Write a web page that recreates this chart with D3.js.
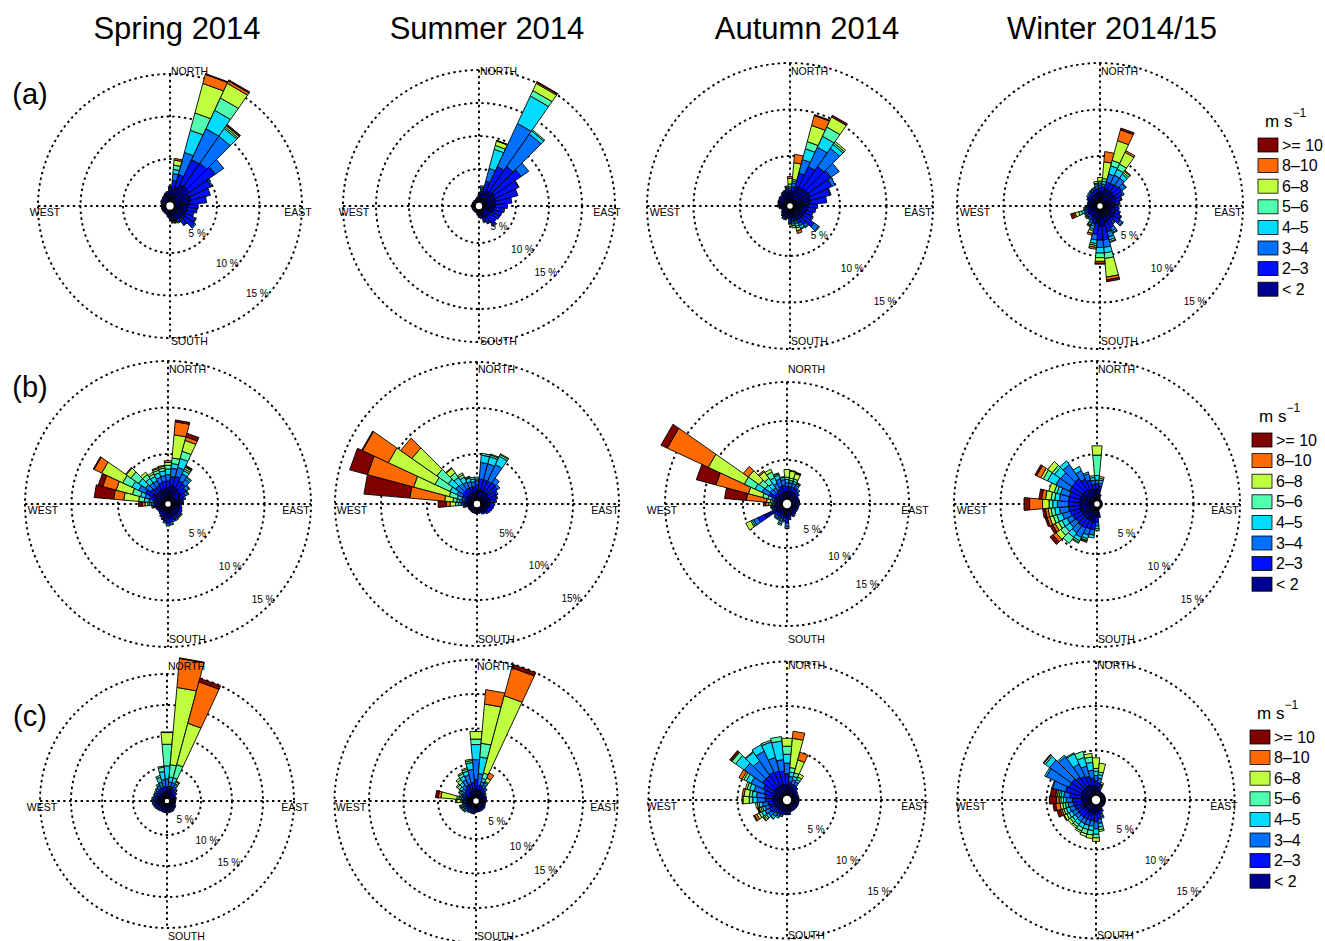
<!DOCTYPE html>
<html>
<head>
<meta charset="utf-8">
<script src="https://cdn.jsdelivr.net/npm/d3@7"></script>
<style>
    body { margin: 0; background: #fff; }
    text { font-family: "Liberation Sans", Arial, Helvetica, sans-serif; fill: #000; }
</style>
</head>
<body>
<svg width="1325" height="941"></svg>
<script type="text/javascript">
    // compass direction of each sector centre (deg, clockwise from north)
    var directions = [0, 10, 20, 30, 40, 50, 60, 70, 80, 90, 100, 110, 120, 130, 140, 150, 160, 170,
        180, 190, 200, 210, 220, 230, 240, 250, 260, 270, 280, 290, 300, 310, 320, 330, 340, 350];
    var speedBins = ["< 2", "2\u20133", "3\u20134", "4\u20135", "5\u20136", "6\u20138", "8\u201310", ">= 10"];
    var binColors = ["#000090", "#0010ff", "#0070ff", "#00dcff", "#50ffb0", "#c0ff40", "#ff6a00", "#800000"];
    var seasons = ["Spring 2014", "Summer 2014", "Autumn 2014", "Winter 2014/15"];
    var rowLabels = ["(a)", "(b)", "(c)"];
    var ringLabels = [5, 10, 15];

    // frequency (%) per speed bin for each direction, order as in speedBins
    var springA = [[1.2,0.3,0.2,0.1],[1.5,1.0,0.8,0.5,0.5,0.6,0.2],[1.8,1.5,2.7,2.7,2.1,3.6,1.1,0.1],
        [2.2,3.3,4.0,2.4,1.6,1.9,0.3,0.15],[2.3,3.3,3.9,1.1,0.2,0.2,0.1,0.1],[2.2,3.8,1.2],[2.0,2.8,0.2],
        [2.0,2.4],[1.8,2.0],[1.6,1.2],[1.5,1.2],[1.4,1.0],[1.5,1.3,0.1],[1.6,1.4,0.2],[1.4,0.8,0.1],
        [1.2,0.4,0.1],[1.0,0.2,0.1,0.1,0.1,0.1],[0.9,0.2,0.1,0.1,0,0.1,0.1],[0.8,0.2],[0.7,0.1],[0.6],
        [0.5],[0.5],[0.5],[0.5],[0.5],[0.5],[0.5],[0.5],[0.6],[0.7],[0.7],[0.8],[0.8,0.1],[0.9,0.2],[1.0,0.2]];
    var summerA = [[1.0,0.2],[1.3,0.4,0.3,0.2,0.1,0.2],[1.8,1.5,2.0,3.0,0.6,0.7,0.05,0.05],
        [2.0,4.0,7.2,4.6,0.9,1.2,0.2,0.1],[2.2,4.5,6.0,0.6,0.2],[2.2,5.0,1.4],[2.0,4.0,0.1],[2.0,3.5],
        [1.9,2.5],[1.8,1.9],[1.7,1.6],[1.6,1.4],[1.5,1.4],[1.4,1.3],[1.4,1.6,0.2],[1.3,1.0,0.1],
        [1.2,0.5,0.2,0.1],[1.0,0.3],[0.9,0.2],[0.7,0.1],[0.5],[0.5],[0.5],[0.5],[0.5],[0.5],[0.5],
        [0.5],[0.5],[0.5],[0.5],[0.5],[0.5],[0.5],[0.6],[0.8]];
    var autumnA = [[1.0,0.3,0.2,0.2,0.3,0.6,0.2],[1.2,0.5,0.4,0.2,0.2,1.8,0.9],[1.8,1.5,1.5,1.2,0.8,1.8,1.1,0.1],
        [1.9,2.4,2.3,1.3,1.1,1.2,0,0.2],[2.0,2.8,2.4,0.5,0.2,0.2],[2.0,3.0,1.1],[2.0,2.6,0.4],[1.9,2.2,0.1],
        [1.8,1.8],[1.6,1.0],[1.5,0.9],[1.4,0.8],[1.3,0.9,0.2],[1.4,1.4,0.6,0.1],[1.3,0.8,0.3,0.1],
        [1.2,0.5,0.3,0.3,0.1],[1.0,0.3,0.3,0.3,0.2,0.3,0.3],[0.9,0.3,0.2,0.2,0.2,0.2],[0.9,0.3,0.2,0.1,0.1],
        [0.8,0.2],[0.8,0.1,0.1,0.1,0.1],[0.8,0.2,0.1,0.1],[0.8,0.1,0.1],[0.7,0.1],[0.6],[0.6],[0.7,0.1],
        [0.8,0.1,0.1],[0.8,0.1],[0.9,0.1],[0.9,0.1],[0.9,0.2],[0.9,0.2],[1.0,0.2,0.1],[1.0,0.2,0.1,0.1],
        [1.1,0.3,0.2,0.1,0.1]];
    var winterA = [[1.2,0.4,0.3,0.2,0.2,0.4],[1.2,0.5,0.3,0.3,0.3,1.8,1.1],[1.5,0.8,0.9,0.9,0.6,2.2,1.2,0.2],
        [1.5,0.8,1.0,0.7,0.6,1.4,0.2],[1.5,0.9,0.9,0.5,0.2,0.2,0.1],[1.5,1.0,0.5,0.1],[1.5,0.8,0.2],
        [1.4,0.6,0.1],[1.3,0.5],[1.2,0.4],[1.2,0.5],[1.3,0.6],[1.4,0.7,0.1],[1.5,0.8,0.3,0.1],[1.3,0.4,0.2,0.1],
        [1.4,0.8,0.4,0.2,0.1],[1.5,1.0,0.6,0.3,0.2,0.1],[1.8,1.5,0.8,0.6,0.6,2.0,0.3,0.2],
        [1.8,1.5,0.8,0.6,0.5,0.4,0.2,0.1],[1.5,1.2,0.6,0.4,0.2,0.2,0.2],[1.1,0.5,0.3,0.3,0.2,0.3,0.2],
        [1.0,0.4,0.3,0.2,0.1,0.1],[0.9,0.3,0.2,0.1],[0.8,0.3,0.2,0.1,0.1,0.1],[0.8,0.3,0.2,0.1,0.1],
        [0.8,0.3,0.3,0.3,0.3,0.4,0.2,0.3],[0.8,0.2,0.2,0.1,0.1],[0.8,0.2],[0.8,0.2],[0.8,0.2],[0.8,0.3,0.1],
        [0.9,0.3,0.2],[0.9,0.3,0.2,0.1],[1.0,0.3,0.2,0.1],[1.0,0.4,0.2,0.1],[1.1,0.4,0.3,0.2,0.1,0.2]];

    var springB = [[1.4,0.7,0.7,0.6,0.4,0.3,0.2],[1.6,1.0,0.9,0.5,0.6,2.5,1.4,0.2],[1.6,1.1,1.0,1.0,0.8,1.2,0.4,0.4],
        [1.5,0.9,0.8,0.4,0.2,0.2,0.1,0.1],[1.4,0.9,0.6,0.2,0.1],[1.3,0.7,0.4,0.1],[1.1,0.6,0.3,0.1],[1.0,0.4,0.2],
        [0.9,0.3,0.1],[0.8,0.3],[0.8,0.3],[0.9,0.3],[0.9,0.4],[1.0,0.4,0.1],[1.0,0.4,0.1],[1.0,0.4,0.2],
        [1.0,0.4,0.2],[1.1,0.5,0.3],[1.2,0.5,0.3],[1.1,0.4,0.2],[1.0,0.3,0.1],[0.9,0.3],[0.8,0.2],[0.7,0.2],
        [0.7,0.2],[0.8,0.2],[0.8,0.2,0.1,0.1,0.1,0.1],[0.8,0.3,0.3,0.2,0.2,0.3,0.3,0.4],
        [0.8,0.4,0.5,0.5,0.6,1.6,1.1,2.1],[1.1,0.6,0.5,0.5,0.9,1.8,1.5,0.5],[1.5,0.8,0.8,0.8,1.1,2.5,0.9,0.1],
        [1.2,0.7,0.7,0.9,1.0,0.6,0.1],[1.2,0.6,0.6,0.6,0.5,0.3],[1.2,0.6,0.6,0.5,0.3,0.2],
        [1.3,0.7,0.6,0.5,0.3,0.2,0.1],[1.4,0.7,0.6,0.5,0.3,0.2,0.1]];
    var summerB = [[1.0,0.7,0.4,0.2,0.2],[1.1,1.2,1.8,0.8,0.2],[1.1,1.2,1.8,0.8,0.2,0.1],[1.1,1.2,2.0,1.0,0.2,0.1],
        [1.1,1.3,0.6],[1.1,1.2,0.3],[1.0,0.9,0.2],[1.0,0.8,0.1],[1.0,0.7],[0.9,0.6],[0.9,0.5],[0.8,0.5],
        [0.8,0.4],[0.8,0.3],[0.7,0.2],[0.6,0.2],[0.5,0.1],[0.5,0.1],[0.5,0.1],[0.5,0.1],[0.5,0.1],[0.5,0.1],
        [0.5,0.1],[0.5,0.1],[0.5,0.1],[0.5,0.1],[0.6,0.2,0.1,0.1,0.1],[0.7,0.3,0.3,0.3,0.3,0.6,0.4,0.9],
        [0.8,0.4,0.3,0.3,0.4,0.9,3.8,5.0],[0.6,0.3,0.4,0.5,0.9,4.0,5.2,2.0],[0.8,0.5,0.7,0.8,1.8,5.6,3.1,0.1],
        [0.9,0.6,0.9,1.0,1.5,3.3,1.5],[0.9,0.6,0.8,0.8,0.6,0.6,0.1],[0.9,0.6,0.7,0.6,0.3,0.2],
        [0.9,0.6,0.6,0.4,0.1,0.1],[0.9,0.6,0.5,0.3,0.2]];
    var autumnB = [[1.0,0.6,0.5,0.4,0.3,1.0],[1.0,0.6,0.5,0.3,0.3,0.9,0.1],[1.0,0.6,0.5,0.3,0.3,0.7,0.1,0.1],
        [1.0,0.6,0.4,0.2,0.1,0.1],[0.9,0.5,0.3],[0.8,0.4,0.1],[0.7,0.3],[0.7,0.3],[0.7,0.3],[0.7,0.3],
        [0.6,0.3],[0.6,0.3],[0.6,0.3],[0.6,0.3],[0.6,0.3,0.1],[0.7,0.3,0.2],[0.7,0.3],[0.8,0.4,0.2],
        [1.0,0.8,0.5,0.2],[0.8,0.4,0.3,0.2],[0.8,0.5,0.4,0.3,0.2],[0.8,0.4,0.3,0.2],[0.9,0.4,0.3,0.1],
        [0.9,0.4,0.2],[2.6,0.9,0.6,0.2,0.2,0.7],[0.8,0.3,0.2,0.1],[0.7,0.3,0.2,0.1,0.1,0.1],
        [0.6,0.2,0.2,0.2,0.2,0.3,0.4,0.3],[0.6,0.2,0.2,0.2,0.3,0.5,2.6,2.8],[0.7,0.3,0.4,0.5,0.7,1.9,4.3,2.6],
        [1.1,0.8,1.0,1.0,1.5,5.1,5.8,0.9],[0.8,0.5,0.7,0.8,0.9,1.7,0.8],[0.8,0.5,0.6,0.7,0.8,1.0,0.2],
        [0.8,0.6,0.9,0.8,0.8,0.4],[0.9,0.8,1.0,0.5,0.2,0.1],[1.0,0.8,0.7,0.3,0.1]];
    var winterB = [[1.3,0.5,0.4,0.5,2.2,1.0],[1.2,0.4,0.3,0.3,0.2,0.2],[0.5,0.2],[0.3],[0.2],[0.2],[0.2],
        [0.2],[0.2],[0.2],[0.2],[0.2],[0.2],[0.2],[0.2],[0.2],[0.3],[0.8,0.3],[1.0,0.6,0.4,0.3,0.2],
        [1.6,0.8,0.6,0.3],[1.5,0.9,0.7,0.4,0.2,0.1,0.1],[1.5,1.0,1.1,0.4,0.2,0.1],[1.5,1.0,0.9,0.6,0.8],
        [1.5,0.9,0.8,0.6,0.6,0.6,0.4,0.4],[1.5,1.0,0.7,0.6,0.4,0.4,0.3,0.3],[1.5,1.1,0.9,0.6,0.4,0.4,0.3,0.2],
        [1.5,1.2,1.0,0.5,0.4,0.3,0.3,0.3],[1.5,1.2,1.2,0.5,0.4,0.7,1.4,0.6],[1.5,1.2,1.0,0.5,0.4,0.6,0.4,0.3],
        [1.5,1.2,1.0,0.4,0.3,0.6],[1.5,1.4,1.6,1.0,0.5,0.3,0.5,0.2],[1.5,1.4,1.5,0.8,0.3,0.6],
        [1.5,1.5,1.8,0.5],[1.4,1.2,1.0,0.5],[1.3,1.0,0.7,0.2],[1.2,0.6,0.4,0.3,0.2]];

    var springC = [[1.0,0.8,1.3,2.1,3.5,1.9,0.1],[1.3,0.6,0.7,0.8,2.0,12.5,4.7,0.1],[1.3,0.6,0.7,0.8,2.2,6.9,6.9,0.6],
        [1.0,0.6,0.5,0.3,0.2,0.3,0.2],[1.0,0.5,0.3,0.1],[0.9,0.4,0.2],[0.8,0.3],[0.8,0.3],[0.7,0.3],[0.7,0.2],
        [0.7,0.2],[0.7,0.2],[0.8,0.3],[0.8,0.3,0.1],[0.9,0.3,0.1],[0.9,0.4,0.1],[0.9,0.4,0.1],[0.9,0.4,0.1],
        [0.9,0.4,0.2],[0.9,0.4,0.1],[0.9,0.4,0.1],[0.9,0.4,0.1],[0.9,0.4,0.2],[1.0,0.4,0.2],[1.0,0.5,0.2],
        [1.1,0.5,0.2],[1.1,0.5,0.3],[1.1,0.5,0.3],[1.1,0.6,0.3],[1.0,0.5,0.3],[1.0,0.5,0.3,0.1],
        [1.0,0.5,0.3,0.2],[1.0,0.6,0.4,0.2],[1.0,0.7,0.6,0.3],[0.9,0.8,1.0,0.8,0.3],[1.0,0.8,1.2,1.3,0.7,0.2]];
    var summerC = [[1.2,1.4,2.9,2.2,0.8,1.1],[1.0,0.8,1.7,2.4,2.0,5.7,2.1],[1.2,0.6,0.6,0.5,0.8,11.6,4.2,0.5],
        [1.0,0.6,0.5,0.3,0.2,0.6,0.8],[0.9,0.5,0.3,0.1],[0.8,0.4,0.1],[0.8,0.3],[0.8,0.3],[0.7,0.3],[0.7,0.3],
        [0.7,0.2],[0.7,0.2],[0.7,0.3],[0.8,0.3],[0.8,0.3],[0.8,0.3],[0.8,0.3],[0.8,0.3],[0.8,0.3],
        [0.8,0.4,0.2],[0.8,0.4,0.2],[0.8,0.4,0.2],[0.8,0.4,0.2,0.1],[0.8,0.4,0.3,0.2,0.1],[0.8,0.4,0.3,0.2,0.2],
        [0.8,0.4,0.3,0.2,0.2,0.1],[0.7,0.3,0.2,0.2,0.1],[0.7,0.3,0.3,0.2,0.2,0.6,0.2],
        [0.8,0.5,0.4,0.3,0.3,2.3,0.4,0.4],[0.7,0.4,0.3,0.2,0.2,0.2],[0.8,0.5,0.4,0.3,0.2,0.1],
        [0.8,0.7,0.5,0.4,0.4,0.2],[0.9,0.8,0.6,0.5,0.5,0.3],[1.0,1.0,0.9,0.6,0.4,0.2],[1.0,1.1,1.3,0.6,0.3,0.2],
        [1.0,1.2,1.9,1.0,0.3,0.2]];
    var autumnC = [[1.2,1.2,1.2,1.0,0.9,0.9],[1.0,0.5,0.6,0.5,0.5,3.3,0.8],[0.9,0.4,0.5,0.4,0.4,1.5,0.9],
        [0.9,0.4,0.4,0.3,0.3,0.4],[0.8,0.3,0.1],[0.7,0.2],[0.6,0.2],[0.6,0.2],[0.6,0.2],[0.6,0.2],[0.6,0.2],
        [0.6,0.2],[0.6,0.2],[0.6,0.2],[0.6,0.2],[0.6,0.2],[0.6,0.2],[0.7,0.3,0.1],[0.7,0.3,0.1],[0.7,0.3,0.1],
        [0.8,0.4,0.2],[0.8,0.4,0.3,0.2],[0.8,0.5,0.4,0.3,0.1],[0.9,0.6,0.5,0.3,0.2,0.2,0.1],
        [0.9,0.7,0.6,0.4,0.3,0.3,0.3,0.1],[0.9,0.6,0.5,0.3,0.2,0.2,0.1,0.1],[0.9,0.7,0.6,0.4,0.2,0.2],
        [1.0,0.9,0.9,0.5,0.4,0.7,0.1],[1.0,0.9,1.0,0.5,0.3,0.6,0.2],[1.0,1.1,1.2,0.5,0.3,0.2],
        [1.1,1.3,1.5,0.6,0.3,0.2,0.4],[1.2,1.6,2.5,1.2,0.5,0.1,0,0.2],[1.2,1.6,2.0,1.2,0.1],[1.2,1.7,2.6,0.8],
        [1.2,1.6,1.6,1.8,0.2],[1.2,1.5,1.3,2.1,0.5]];
    var winterC = [[1.0,0.6,0.6,0.5,0.3,1.2],[0.9,0.5,0.5,0.4,0.3,1.0],[0.6,0.3,0.2,0.1,0.1,0.2],[0.4,0.1],
        [0.4,0.1],[0.4,0.1],[0.4,0.1],[0.4,0.1],[0.4,0.1],[0.4,0.1],[0.4,0.1],[0.4,0.1],[0.4,0.1],[0.4,0.1],
        [0.4,0.1],[0.6,0.3],[0.7,0.4,0.3,0.2],[0.9,0.7,0.5,0.4,0.3,0.2],[1.0,0.9,0.8,0.6,0.4,0.4],
        [1.0,0.8,0.6,0.5,0.5,0.4],[1.0,0.8,0.6,0.5,0.5,0.3],[1.0,0.8,0.6,0.5,0.4,0.2],[1.0,0.8,0.6,0.4,0.3,0.2],
        [1.0,0.8,0.5,0.4,0.3,0.3],[1.0,0.8,0.6,0.4,0.3,0.3,0.1],[1.0,0.9,0.6,0.4,0.3,0.2,0.2,0.4],
        [1.0,1.0,0.6,0.3,0.3,0.3,0.5,0.3],[1.0,1.1,0.7,0.3,0.3,0.2,0.3,0.8],[1.1,1.3,0.7,0.3,0.2,0.2,0.2,0.6],
        [1.2,1.8,1.5,0.1],[1.2,1.6,2.8,0.2],[1.2,1.6,3.0,0.6,0.2,0,0,0.1],[1.2,1.4,2.8,0.2],
        [1.2,1.2,1.5,1.3,0.1],[1.2,1.0,1.2,1.0,0.7],[1.1,0.8,0.9,0.9,0.6,0.4]];

    // layout of the twelve roses: centre, px per percent, inner hole, rings drawn
    var panels = [
        {data: springA, cx: 170, cy: 206, k: 8.5, r0: 4.5, rings: [5, 10, 15], unit: " %"},
        {data: summerA, cx: 479, cy: 206, k: 6.6, r0: 4, rings: [5, 10, 15, 20], unit: " %"},
        {data: autumnA, cx: 790, cy: 206, k: 9.3, r0: 3.5, rings: [5, 10, 15], unit: " %"},
        {data: winterA, cx: 1100, cy: 206, k: 9.3, r0: 3.5, rings: [5, 10, 15], unit: " %"},
        {data: springB, cx: 168, cy: 504, k: 9.3, r0: 3.5, rings: [5, 10, 15], unit: " %"},
        {data: summerB, cx: 477, cy: 504, k: 9.2, r0: 4, rings: [5, 10, 15], unit: "%"},
        {data: autumnB, cx: 787, cy: 504, k: 7.8, r0: 5, rings: [5, 10, 15], unit: " %"},
        {data: winterB, cx: 1097, cy: 504, k: 9.3, r0: 3.5, rings: [5, 10, 15], unit: " %"},
        {data: springC, cx: 167, cy: 801, k: 6.2, r0: 3, rings: [5, 10, 15, 20], unit: " %"},
        {data: summerC, cx: 476, cy: 801, k: 6.9, r0: 3.5, rings: [5, 10, 15, 20], unit: " %"},
        {data: autumnC, cx: 787, cy: 800, k: 8.9, r0: 5, rings: [5, 10, 15], unit: " %"},
        {data: winterC, cx: 1096, cy: 800, k: 8.9, r0: 5, rings: [5, 10, 15], unit: " %"}
    ];
    var legends = [{x: 1258, y: 120}, {x: 1252, y: 415}, {x: 1250, y: 712}];

    var svg = d3.select("svg");
    var half = 5 * Math.PI / 180;

    svg.selectAll("text.season")
            .data(seasons)
            .enter()
            .append("text")
            .attr("x", function (d, i) { return [177, 487, 807, 1112][i]; })
            .attr("y", 39)
            .attr("text-anchor", "middle")
            .attr("font-size", 31)
            .text(function (d) { return d; });

    svg.selectAll("text.row")
            .data(rowLabels)
            .enter()
            .append("text")
            .attr("x", 30)
            .attr("y", function (d, i) { return [104, 397, 726][i]; })
            .attr("text-anchor", "middle")
            .attr("font-size", 29)
            .text(function (d) { return d; });

    panels.forEach(function (p) {
        var maxRing = p.rings[p.rings.length - 1];
        var r = d3.scaleLinear().domain([0, maxRing]).range([p.r0, p.r0 + p.k * maxRing]);
        var R = r(maxRing);
        var g = svg.append("g").attr("transform", "translate(" + p.cx + "," + p.cy + ")");

        var grid = g.append("g")
                .attr("fill", "none")
                .attr("stroke", "#000")
                .attr("stroke-width", 1.9)
                .attr("stroke-dasharray", "2.4,3.4");
        grid.selectAll("circle")
                .data(p.rings)
                .enter()
                .append("circle")
                .attr("r", function (d) { return r(d); });
        grid.append("line").attr("x1", -R).attr("x2", R).attr("y1", 0).attr("y2", 0);
        grid.append("line").attr("y1", -R).attr("y2", R).attr("x1", 0).attr("x2", 0);

        // one stacked wedge per direction, speed bins from centre outward
        var segs = [];
        p.data.forEach(function (vals, i) {
            var cum = d3.cumsum(vals);
            vals.forEach(function (v, j) {
                if (v <= 0) return;
                segs.push({dir: directions[i], bin: j, lo: cum[j] - v, hi: cum[j]});
            });
        });
        g.append("g")
                .selectAll("path")
                .data(segs)
                .enter()
                .append("path")
                .attr("d", function (d) {
                    var a = d.dir * Math.PI / 180;
                    var pts = [d3.pointRadial(a - half, r(d.lo)), d3.pointRadial(a - half, r(d.hi)),
                        d3.pointRadial(a + half, r(d.hi)), d3.pointRadial(a + half, r(d.lo))];
                    return "M" + pts.join("L") + "Z";
                })
                .attr("fill", function (d) { return binColors[d.bin]; })
                .attr("stroke", "#000")
                .attr("stroke-width", 0.9);

        g.append("circle")
                .attr("r", p.r0)
                .attr("fill", "#fff")
                .attr("stroke", "#000")
                .attr("stroke-width", 1.6);

        var compass = [
            {t: "NORTH", x: 1, y: -131, a: "start"},
            {t: "SOUTH", x: 1, y: 139, a: "start"},
            {t: "WEST", x: -125, y: 10, a: "middle"},
            {t: "EAST", x: 128, y: 10, a: "middle"}
        ];
        g.selectAll("text.compass")
                .data(compass)
                .enter()
                .append("text")
                .attr("x", function (d) { return d.x; })
                .attr("y", function (d) { return d.y; })
                .attr("text-anchor", function (d) { return d.a; })
                .attr("font-size", 10.5)
                .text(function (d) { return d.t; });

        g.selectAll("text.pct")
                .data(ringLabels)
                .enter()
                .append("text")
                .attr("x", function (d) { return r(d) / Math.SQRT2 - 6; })
                .attr("y", function (d) { return r(d) / Math.SQRT2 - 2.5; })
                .attr("text-anchor", "middle")
                .attr("font-size", 10)
                .text(function (d) { return d + p.unit; });
    });

    legends.forEach(function (L) {
        var lg = svg.append("g").attr("transform", "translate(" + L.x + "," + L.y + ")");
        var title = lg.append("text")
                .attr("x", 7)
                .attr("y", 7)
                .attr("font-size", 17)
                .text("m s");
        title.append("tspan")
                .attr("dy", -10)
                .attr("font-size", 12)
                .text("\u22121");
        var rows = speedBins.slice().reverse();
        var y = d3.scaleBand().domain(rows).range([16, 16 + 8 * 20.6]);
        var item = lg.selectAll("g.item")
                .data(rows)
                .enter()
                .append("g")
                .attr("transform", function (d) { return "translate(0," + y(d) + ")"; });
        item.append("rect")
                .attr("width", 20)
                .attr("height", 14)
                .attr("y", 2)
                .attr("fill", function (d) { return binColors[speedBins.indexOf(d)]; })
                .attr("stroke", "#000")
                .attr("stroke-width", 0.8);
        item.append("text")
                .attr("x", 24)
                .attr("y", 14.5)
                .attr("font-size", 16)
                .text(function (d) { return d; });
    });
</script>
</body>
</html>
